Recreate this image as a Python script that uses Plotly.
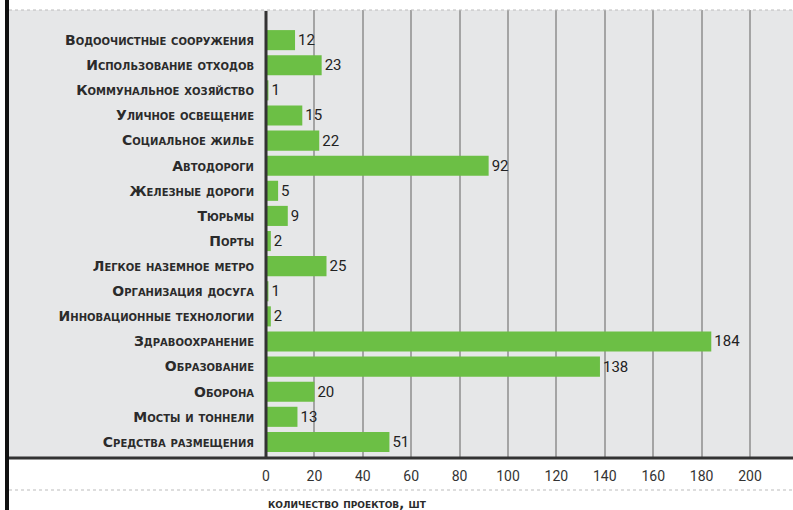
import plotly.graph_objects as go

categories = [
    "Водоочистные сооружения",
    "Использование отходов",
    "Коммунальное хозяйство",
    "Уличное освещение",
    "Социальное жилье",
    "Автодороги",
    "Железные дороги",
    "Тюрьмы",
    "Порты",
    "Легкое наземное метро",
    "Организация досуга",
    "Инновационные технологии",
    "Здравоохранение",
    "Образование",
    "Оборона",
    "Мосты и тоннели",
    "Средства размещения",
]
values = [12, 23, 1, 15, 22, 92, 5, 9, 2, 25, 1, 2, 184, 138, 20, 13, 51]
x_ticks = [0, 20, 40, 60, 80, 100, 120, 140, 160, 180, 200]
x_title = "количество проектов, шт"

W, H = 793, 510
L, R, T, B = 266, 0, 10, 52
pw = W - L - R
ph = H - T - B

GRAY = "#e6e7e8"
GREEN = "#6cbf45"
DARK = "#333333"
LABEL_FONT = "DejaVu Sans, sans-serif"

fig = go.Figure()
fig.add_trace(go.Bar(
    x=values, y=categories, orientation="h",
    marker=dict(color=GREEN, line=dict(width=0)),
    width=0.8,
    text=[str(v) for v in values], textposition="outside",
    textfont=dict(family="Liberation Sans Narrow, Roboto, sans-serif", size=15, color="#222222"),
    cliponaxis=False,
))

def px_x(p):
    return (p - L) / pw

def px_y(p):
    return 1 - (p - T) / ph

shapes = [
    dict(type="rect", xref="paper", yref="paper", x0=px_x(9), x1=1, y0=px_y(458), y1=px_y(10),
         fillcolor=GRAY, line=dict(width=0), layer="below"),
    dict(type="line", xref="paper", yref="paper", x0=px_x(7), x1=px_x(7), y0=px_y(510), y1=px_y(0),
         line=dict(color="#111111", width=4)),
    dict(type="line", xref="paper", yref="paper", x0=px_x(9), x1=1, y0=px_y(10), y1=px_y(10),
         line=dict(color="#bbbbbb", width=1, dash="dot")),
    dict(type="line", xref="paper", yref="paper", x0=px_x(9), x1=1, y0=px_y(458), y1=px_y(458),
         line=dict(color=DARK, width=3)),
    dict(type="line", xref="paper", yref="paper", x0=px_x(9), x1=1, y0=px_y(490), y1=px_y(490),
         line=dict(color="#bbbbbb", width=1, dash="dot")),
    dict(type="line", xref="paper", yref="paper", x0=0, x1=0, y0=px_y(458), y1=px_y(11),
         line=dict(color=DARK, width=3)),
]

fig.update_layout(
    width=W, height=H,
    margin=dict(l=L, r=R, t=T, b=B, pad=0),
    paper_bgcolor="white",
    plot_bgcolor=GRAY,
    showlegend=False,
    bargap=0.2,
    shapes=shapes,
    xaxis=dict(
        range=[0, pw / 2.42],
        tickvals=x_ticks, ticktext=[str(t) for t in x_ticks],
        showgrid=True, gridcolor="#a4a4a4", gridwidth=1.5,
        zeroline=False, showline=False, ticks="",
        tickfont=dict(family="Roboto, sans-serif", size=14, color=DARK),
        ticklabelstandoff=8,
    ),
    yaxis=dict(
        type="category",
        range=[16.64, -1.2],
        showgrid=False, zeroline=False, showline=False, ticks="",
        tickfont=dict(family=LABEL_FONT, size=14,
                      color="#2b2b2b", weight="bold", variant="small-caps"),
        ticklabelstandoff=11,
    ),
    annotations=[dict(
        text=x_title, xref="paper", yref="paper", x=0, y=px_y(503),
        xanchor="left", yanchor="middle", showarrow=False,
        font=dict(family=LABEL_FONT, size=13,
                  color="#2b2b2b", weight="bold", variant="small-caps"),
    )],
)

fig.write_html("out.html")
